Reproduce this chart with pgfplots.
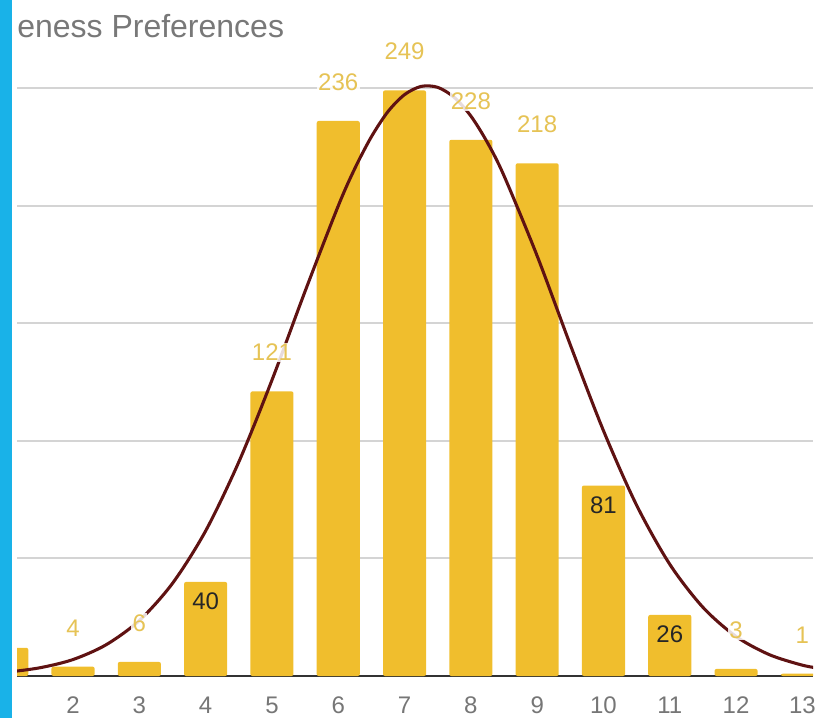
\documentclass[border=0pt]{standalone}
\usepackage{pgfplots}
\pgfplotsset{compat=1.18}
\usepackage{fontspec}
\setmainfont{Liberation Sans}
\definecolor{barcol}{RGB}{240,190,45}
\definecolor{lblcol}{RGB}{230,195,85}
\definecolor{curvecol}{RGB}{95,18,18}
\definecolor{gridcol}{RGB}{212,212,212}
\definecolor{basecol}{RGB}{50,50,50}
\definecolor{tickcol}{RGB}{118,118,118}
\definecolor{titlecol}{RGB}{120,120,120}
\definecolor{stripcol}{RGB}{25,178,232}
\begin{document}
\begin{tikzpicture}
	\begin{axis}[
			width=597pt,
			height=502.7pt,
			scale only axis,
			xmin=1.155, xmax=13.16,
			ymin=0, ymax=285,
			axis line style={draw=none},
			tick style={draw=none},
			major tick length=0pt,
			ytick={50,100,...,250},
			yticklabels={},
			ymajorgrids,
			grid style={gridcol, line width=1.6pt},
			extra y ticks={0},
			extra y tick labels={},
			extra y tick style={grid style={basecol, line width=1.4pt}},
			xtick={2,...,13},
			/pgf/number format/assume math mode=true,
			xticklabel style={font=\fontsize{18}{20}\selectfont, text=tickcol, anchor=base, yshift=-27.75pt},
		]
		% bars
		\addplot [ybar, bar width=0.65, fill=barcol, draw=none, rounded corners=1.5pt] coordinates {
			(1,12) (2,4) (3,6) (4,40) (5,121) (6,236) (7,249)
			(8,228) (9,218) (10,81) (11,26) (12,3) (13,1) };
		% fitted curve
		\addplot [curvecol, line width=2.3pt, smooth, mark=none] coordinates {
			(0.9,1.4) (1.0,1.6) (1.5,3.5) (2.0,7.0) (2.5,13.3) (3.0,23.6)
			(3.5,39.4) (4.0,61.7) (4.5,91.0) (5.0,125.8) (5.5,163.6)
			(6.0,199.9) (6.25,215.8) (6.5,229.3) (6.75,240.0) (7.0,247.2)
			(7.25,250.7) (7.5,250.3) (7.75,246.0) (8.0,238.1) (8.25,226.8)
			(8.5,212.7) (9.0,178.6) (9.5,140.8) (10.0,104.3)
			(10.5,72.6) (11.0,47.5) (11.5,29.2) (12.0,16.8) (12.5,9.1)
			(13.0,4.6) (13.3,3.1) };
		% labels above the bars
		\addplot [draw=none, mark=none, point meta=explicit symbolic,
			nodes near coords,
			every node near coord/.append style={anchor=base, yshift=22.9pt,
				font=\fontsize{18}{20}\selectfont, text=lblcol,
				fill=white, fill opacity=0.85, text opacity=1, inner sep=1pt}]
		coordinates {
			(1,12) [12] (2,4) [4] (3,6) [6] (5,121) [121] (6,236) [236]
			(7,249) [249] (8,228) [228] (9,218) [218] (12,3) [3] (13,1) [1] };
		% labels inside the bars
		\addplot [draw=none, mark=none, point meta=explicit symbolic,
			nodes near coords,
			every node near coord/.append style={anchor=base, yshift=-21pt,
				font=\fontsize{18}{20}\selectfont, text=black!85, inner sep=1pt}]
		coordinates { (4,40) [40] (10,81) [81] (11,26) [26] };
	\end{axis}
	\node [anchor=base west, inner sep=0pt, text=titlecol, font=\fontsize{24}{28}\selectfont]
		at ([yshift=478.7pt]current axis.south west) {eness Preferences};
	\fill [stripcol] ([shift={(-12.75pt,-31.5pt)}]current axis.south west)
		rectangle ([shift={(-3.75pt,507pt)}]current axis.south west);
	\pgfresetboundingbox
	\path ([shift={(-12.75pt,-31.5pt)}]current axis.south west)
		rectangle ([shift={(602.25pt,507pt)}]current axis.south west);
\end{tikzpicture}
\end{document}
